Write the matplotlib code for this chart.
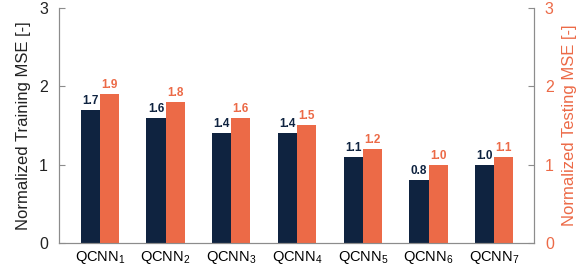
import numpy as np
import matplotlib.pyplot as plt

models = ['QCNN$_1$', 'QCNN$_2$', 'QCNN$_3$', 'QCNN$_4$', 'QCNN$_5$', 'QCNN$_6$', 'QCNN$_7$']
train_mse = [1.7, 1.6, 1.4, 1.4, 1.1, 0.8, 1.0]
test_mse = [1.9, 1.8, 1.6, 1.5, 1.2, 1.0, 1.1]

dark = '#0f2340'
orange = '#ec6a47'
gray = '#8c8c8c'

plt.rcParams['font.family'] = ['Liberation Sans', 'DejaVu Sans']
plt.rcParams['mathtext.fontset'] = 'custom'
plt.rcParams['mathtext.rm'] = 'Liberation Sans'
plt.rcParams['mathtext.it'] = 'Liberation Sans'

fig, ax = plt.subplots(figsize=(5.84, 2.67), dpi=100)
fig.subplots_adjust(left=0.101, right=0.914, top=0.97, bottom=0.09)
ax2 = ax.twinx()

x = np.arange(len(models))
w = 0.29
ax.bar(x - w / 2, train_mse, w, color=dark)
ax2.bar(x + w / 2, test_mse, w, color=orange)

for i in range(len(models)):
    ax.text(x[i] - w / 2, train_mse[i] + 0.04, f'{train_mse[i]:.1f}', ha='center', va='bottom',
            fontsize=8.5, fontweight='bold', color=dark)
    ax2.text(x[i] + w / 2, test_mse[i] + 0.04, f'{test_mse[i]:.1f}', ha='center', va='bottom',
             fontsize=8.5, fontweight='bold', color=orange)

for a in (ax, ax2):
    a.set_ylim(0, 3)
    a.set_yticks([0, 1, 2, 3])
    a.set_xlim(-0.62, 6.6)
    for s in a.spines.values():
        s.set_color(gray)
    a.spines['top'].set_visible(False)

ax.set_xticks(x)
ax.set_xticklabels(models, fontsize=10.5)
ax.tick_params(axis='x', length=0, pad=4)
ax.tick_params(axis='y', direction='in', colors=gray, labelsize=11.5, length=4, pad=8)
for t in ax.get_yticklabels():
    t.set_color('#222222')
ax2.tick_params(axis='y', direction='in', colors=gray, labelsize=11.5, length=4, pad=8)
for t in ax2.get_yticklabels():
    t.set_color(orange)

ax.set_ylabel('Normalized Training MSE [-]', fontsize=12, color='#222222', labelpad=6)
ax2.set_ylabel('Normalized Testing MSE [-]', fontsize=12, color=orange, labelpad=6)

fig.savefig('out.png', dpi=100)
